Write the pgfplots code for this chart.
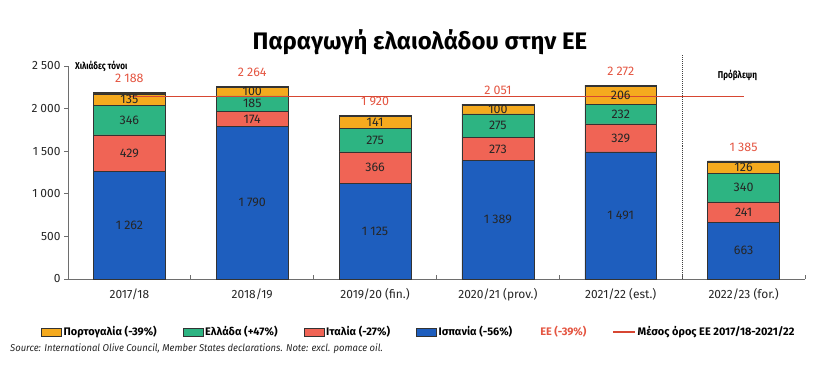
\documentclass[border=0pt]{standalone}
\usepackage{pgfplots}
\pgfplotsset{compat=1.18}
\usepackage{fontspec}
\setmainfont{Fira Sans}
\newfontfamily\condfont{Fira Sans}[FakeStretch=0.82]
\newfontfamily\srcfont{Fira Sans}[FakeStretch=0.95]
\definecolor{cblue}{RGB}{30,94,190}
\definecolor{cred}{RGB}{240,100,85}
\definecolor{cgreen}{RGB}{45,180,130}
\definecolor{corange}{RGB}{245,170,30}
\definecolor{cother}{RGB}{40,40,40}
\definecolor{cline}{RGB}{215,70,50}
\definecolor{ctot}{RGB}{228,85,65}
\definecolor{caxis}{RGB}{110,110,110}
\tikzset{seg/.style={font=\fontsize{12.5}{14}\selectfont, text=black!85, inner sep=0pt},
  tot/.style={font=\fontsize{12.5}{14}\selectfont, text=ctot, inner sep=0pt, yshift=14bp}}
\begin{document}
\begin{tikzpicture}[x=1bp,y=1bp]
\useasboundingbox (0,0) rectangle (828,385);
\begin{axis}[
  at={(68bp,106bp)}, anchor=south west, scale only axis,
  width=737bp, height=213bp,
  xmin=-0.5, xmax=5.5, ymin=0, ymax=2500,
  ybar stacked, bar width=0.585,
  axis lines=left, axis line style={draw=caxis, line width=0.8pt, -},
  xtick={0,1,2,3,4,5},
  xticklabels={2017/18,2018/19,2019/20 (fin.),2020/21 (prov.),2021/22 (est.),2022/23 (for.)},
  x tick style={draw=none},
  ytick={0,500,1000,1500,2000,2500},
  tick align=outside, major tick length=4bp,
  y tick style={draw=caxis, line width=0.8pt},
  tick label style={font=\fontsize{12}{14}\selectfont, text=black!85},
  xticklabel style={yshift=-2bp},
  /pgf/number format/assume math mode=true,
  /pgf/number format/1000 sep={\kern0.25em},
  clip=false,
]
\addplot[fill=cblue, draw=black!80, line width=0.5pt] coordinates {(0,1262) (1,1790) (2,1125) (3,1389) (4,1491) (5,663)};
\addplot[fill=cred, draw=black!80, line width=0.5pt] coordinates {(0,429) (1,174) (2,366) (3,273) (4,329) (5,241)};
\addplot[fill=cgreen, draw=black!80, line width=0.5pt] coordinates {(0,346) (1,185) (2,275) (3,275) (4,232) (5,340)};
\addplot[fill=corange, draw=black!80, line width=0.5pt] coordinates {(0,135) (1,100) (2,141) (3,100) (4,206) (5,126)};
\addplot[fill=cother, draw=black!80, line width=0.5pt] coordinates {(0,16) (1,15) (2,13) (3,14) (4,14) (5,15)};
\end{axis}
\begin{axis}[
  at={(68bp,106bp)}, anchor=south west, scale only axis,
  width=737bp, height=213bp,
  xmin=-0.5, xmax=5.5, ymin=0, ymax=2500,
  axis x line=bottom, axis y line=none,
  axis line style={draw=none},
  xtick={0.5,1.5,2.5,3.5,4.5,5.5}, xticklabels={},
  tick align=inside, major tick length=4bp,
  x tick style={draw=caxis, line width=0.8pt},
  clip=false,
  legend style={at={(0.476,-0.249)}, anchor=center, draw=none, fill=none,
    legend columns=-1, font=\bfseries\fontsize{11}{13}\selectfont, inner sep=0pt,
    /tikz/every even column/.append style={column sep=24bp}},
  legend cell align=left,
]
\addplot[cline, line width=1.3pt, forget plot] coordinates {(0,2139) (5,2139)};
\addplot[black!75, densely dotted, line width=1pt, forget plot] coordinates {(4.5,0) (4.5,2630)};
\addlegendimage{legend image code/.code={\draw[fill=corange, draw=black!80, line width=0.5pt] (0bp,-4bp) rectangle (20bp,4bp);}}
\addlegendentry{Πορτογαλία (-39\%)}
\addlegendimage{legend image code/.code={\draw[fill=cgreen, draw=black!80, line width=0.5pt] (0bp,-4bp) rectangle (20bp,4bp);}}
\addlegendentry{Ελλάδα (+47\%)}
\addlegendimage{legend image code/.code={\draw[fill=cred, draw=black!80, line width=0.5pt] (0bp,-4bp) rectangle (20bp,4bp);}}
\addlegendentry{Ιταλία (-27\%)}
\addlegendimage{legend image code/.code={\draw[fill=cblue, draw=black!80, line width=0.5pt] (0bp,-4bp) rectangle (20bp,4bp);}}
\addlegendentry{Ισπανία (-56\%)}
\addlegendimage{empty legend}
\addlegendentry{\textcolor{ctot}{ΕΕ (-39\%)}}
\addlegendimage{legend image code/.code={\draw[cline, line width=1.3pt] (0bp,0bp) -- (22bp,0bp);}}
\addlegendentry{Μέσος όρος ΕΕ 2017/18-2021/22}
\node[tot] at (axis cs:0,2188) {2\kern0.25em188};
\node[tot] at (axis cs:1,2264) {2\kern0.25em264};
\node[tot] at (axis cs:2,1920) {1\kern0.25em920};
\node[tot] at (axis cs:3,2051) {2\kern0.25em051};
\node[tot] at (axis cs:4,2272) {2\kern0.25em272};
\node[tot] at (axis cs:5,1385) {1\kern0.25em385};
\node[seg] at (axis cs:0,631) {1\kern0.25em262};
\node[seg] at (axis cs:0,1476.5) {429};
\node[seg] at (axis cs:0,1864) {346};
\node[seg] at (axis cs:0,2104.5) {135};
\node[seg] at (axis cs:1,895) {1\kern0.25em790};
\node[seg] at (axis cs:1,1877) {174};
\node[seg] at (axis cs:1,2056.5) {185};
\node[seg] at (axis cs:1,2199) {100};
\node[seg] at (axis cs:2,562.5) {1\kern0.25em125};
\node[seg] at (axis cs:2,1308) {366};
\node[seg] at (axis cs:2,1628.5) {275};
\node[seg] at (axis cs:2,1836.5) {141};
\node[seg] at (axis cs:3,694.5) {1\kern0.25em389};
\node[seg] at (axis cs:3,1525.5) {273};
\node[seg] at (axis cs:3,1799.5) {275};
\node[seg] at (axis cs:3,1987) {100};
\node[seg] at (axis cs:4,745.5) {1\kern0.25em491};
\node[seg] at (axis cs:4,1655.5) {329};
\node[seg] at (axis cs:4,1936) {232};
\node[seg] at (axis cs:4,2155) {206};
\node[seg] at (axis cs:5,331.5) {663};
\node[seg] at (axis cs:5,783.5) {241};
\node[seg] at (axis cs:5,1074) {340};
\node[seg] at (axis cs:5,1307) {126};
\node[anchor=west, font=\condfont\bfseries\fontsize{10}{12}\selectfont, inner sep=0pt] at (rel axis cs:0,1) [xshift=7bp] {Χιλιάδες τόνοι};
\node[font=\condfont\bfseries\fontsize{10}{12}\selectfont, inner sep=0pt] at (axis cs:4.95,2394) {Πρόβλεψη};
\end{axis}
\node[font=\bfseries\fontsize{24}{28}\selectfont, inner sep=0pt] at (420,343) {Παραγωγή ελαιολάδου στην ΕΕ};
\node[anchor=west, font=\srcfont\itshape\fontsize{10}{12}\selectfont, text=black!85, inner sep=0pt] at (10,36) {Source: International Olive Council, Member States declarations. Note: excl. pomace oil.};
\end{tikzpicture}
\end{document}
